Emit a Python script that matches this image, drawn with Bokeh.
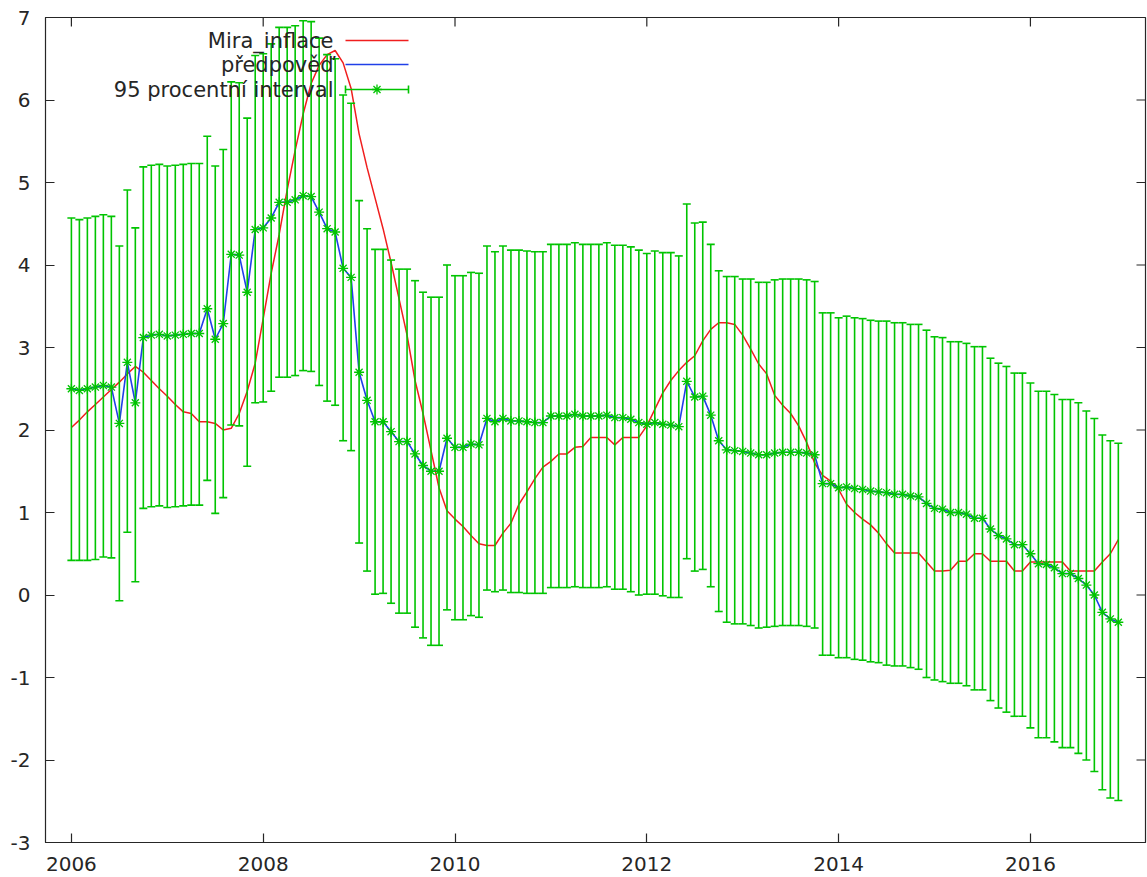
import numpy as np
from bokeh.plotting import figure
from bokeh.models import Range1d, FixedTicker
from bokeh.embed import file_html
from bokeh.resources import INLINE
from bokeh.core.properties import value

# ---------------- data (monthly, Jan 2006 .. Dec 2016) ----------------
start_year = 2006

mira_inflace = [
    2.03, 2.12, 2.22, 2.31, 2.40, 2.49, 2.58, 2.68, 2.77, 2.70,
    2.60, 2.50, 2.41, 2.31, 2.22, 2.20, 2.10, 2.10, 2.08, 2.00,
    2.02, 2.20, 2.47, 2.81, 3.35, 3.90, 4.37, 4.91, 5.39, 5.83,
    6.20, 6.42, 6.55, 6.60, 6.45, 6.14, 5.59, 5.18, 4.81, 4.44,
    4.03, 3.59, 3.15, 2.60, 2.20, 1.75, 1.30, 1.02, 0.92, 0.83,
    0.72, 0.62, 0.60, 0.60, 0.75, 0.87, 1.10, 1.25, 1.41, 1.55,
    1.62, 1.71, 1.71, 1.79, 1.80, 1.91, 1.91, 1.91, 1.82, 1.91,
    1.91, 1.91, 2.05, 2.25, 2.45, 2.60, 2.72, 2.82, 2.90, 3.08,
    3.22, 3.30, 3.30, 3.28, 3.15, 2.98, 2.80, 2.68, 2.42, 2.30,
    2.20, 2.05, 1.85, 1.60, 1.45, 1.38, 1.28, 1.10, 1.00, 0.92,
    0.85, 0.75, 0.62, 0.51, 0.51, 0.51, 0.51, 0.40, 0.29, 0.29,
    0.30, 0.41, 0.41, 0.50, 0.50, 0.41, 0.41, 0.41, 0.29, 0.29,
    0.40, 0.40, 0.40, 0.40, 0.40, 0.29, 0.29, 0.29, 0.29, 0.40,
    0.50, 0.67,
]

predpoved = [
    2.50, 2.48, 2.50, 2.52, 2.54, 2.52, 2.08, 2.82, 2.33, 3.12,
    3.15, 3.16, 3.14, 3.15, 3.16, 3.17, 3.17, 3.47, 3.10, 3.29,
    4.13, 4.12, 3.67, 4.43, 4.45, 4.57, 4.76, 4.76, 4.79, 4.84,
    4.83, 4.64, 4.44, 4.40, 3.96, 3.85, 2.70, 2.36, 2.10, 2.10,
    1.98, 1.86, 1.86, 1.71, 1.57, 1.50, 1.50, 1.90, 1.79, 1.79,
    1.83, 1.82, 2.14, 2.10, 2.14, 2.11, 2.11, 2.10, 2.09, 2.09,
    2.17, 2.17, 2.17, 2.19, 2.17, 2.17, 2.17, 2.18, 2.15, 2.15,
    2.13, 2.09, 2.07, 2.09, 2.07, 2.06, 2.04, 2.59, 2.40, 2.41,
    2.18, 1.87, 1.76, 1.75, 1.74, 1.72, 1.70, 1.70, 1.72, 1.73,
    1.73, 1.73, 1.72, 1.70, 1.35, 1.35, 1.30, 1.31, 1.29, 1.28,
    1.26, 1.25, 1.24, 1.22, 1.22, 1.20, 1.19, 1.11, 1.05, 1.04,
    1.00, 1.00, 0.98, 0.93, 0.93, 0.80, 0.72, 0.68, 0.61, 0.61,
    0.50, 0.38, 0.37, 0.33, 0.26, 0.26, 0.20, 0.12, 0.00, -0.21,
    -0.29, -0.33,
]

interval_upper = [
    4.57, 4.55, 4.57, 4.59, 4.61, 4.59, 4.23, 4.91, 4.45, 5.19,
    5.21, 5.22, 5.20, 5.21, 5.22, 5.23, 5.23, 5.56, 5.20, 5.40,
    6.22, 6.21, 5.78, 6.54, 6.56, 6.68, 6.88, 6.88, 6.90, 6.96,
    6.95, 6.75, 6.55, 6.50, 6.06, 5.96, 4.78, 4.44, 4.19, 4.19,
    4.06, 3.95, 3.95, 3.81, 3.67, 3.61, 3.61, 4.00, 3.87, 3.87,
    3.91, 3.90, 4.23, 4.16, 4.23, 4.18, 4.18, 4.17, 4.16, 4.16,
    4.25, 4.25, 4.25, 4.27, 4.25, 4.25, 4.25, 4.27, 4.24, 4.24,
    4.22, 4.18, 4.14, 4.17, 4.15, 4.15, 4.11, 4.74, 4.51, 4.52,
    4.25, 3.93, 3.86, 3.86, 3.83, 3.83, 3.79, 3.79, 3.82, 3.83,
    3.83, 3.83, 3.82, 3.80, 3.42, 3.42, 3.36, 3.38, 3.36, 3.35,
    3.33, 3.32, 3.32, 3.30, 3.30, 3.28, 3.28, 3.21, 3.13, 3.12,
    3.07, 3.07, 3.05, 3.01, 3.01, 2.87, 2.81, 2.77, 2.69, 2.69,
    2.57, 2.47, 2.47, 2.43, 2.37, 2.37, 2.33, 2.23, 2.14, 1.94,
    1.87, 1.84,
]

interval_lower = [
    0.42, 0.42, 0.42, 0.43, 0.46, 0.45, -0.07, 0.76, 0.16, 1.05,
    1.07, 1.08, 1.06, 1.07, 1.08, 1.09, 1.09, 1.39, 0.99, 1.18,
    2.06, 2.05, 1.56, 2.33, 2.34, 2.47, 2.64, 2.64, 2.66, 2.72,
    2.71, 2.54, 2.35, 2.30, 1.87, 1.75, 0.63, 0.29, 0.01, 0.02,
    -0.10, -0.22, -0.22, -0.39, -0.52, -0.61, -0.61, -0.18, -0.30, -0.30,
    -0.25, -0.27, 0.06, 0.04, 0.06, 0.03, 0.03, 0.02, 0.02, 0.02,
    0.09, 0.09, 0.09, 0.10, 0.09, 0.09, 0.09, 0.10, 0.07, 0.07,
    0.04, 0.00, 0.01, 0.01, -0.01, -0.03, -0.03, 0.44, 0.29, 0.31,
    0.10, -0.20, -0.33, -0.35, -0.35, -0.37, -0.40, -0.39, -0.38, -0.37,
    -0.37, -0.37, -0.38, -0.40, -0.73, -0.73, -0.76, -0.76, -0.78, -0.79,
    -0.81, -0.82, -0.85, -0.86, -0.86, -0.88, -0.90, -1.00, -1.03, -1.05,
    -1.07, -1.07, -1.10, -1.15, -1.15, -1.28, -1.37, -1.42, -1.47, -1.47,
    -1.61, -1.73, -1.73, -1.78, -1.85, -1.85, -1.92, -2.00, -2.14, -2.36,
    -2.46, -2.49,
]

legend_labels = ["Mira_inflace", "předpověď", "95 procentní interval"]
x_ticks = [2006, 2008, 2010, 2012, 2014, 2016]
y_ticks = [-3, -2, -1, 0, 1, 2, 3, 4, 5, 6, 7]

# monthly time axis
t = [start_year + i / 12 for i in range(len(predpoved))]

# ---------------- styling ----------------
RED = "#f01e1e"
BLUE = "#2040e8"
GREEN = "#00c400"
INK = "#262626"
FONT = "DejaVu Sans"

X0, X1 = 2005.73, 2017.20
Y0, Y1 = -3, 7
FRAME_W, FRAME_H = 1100.0, 825.0
TICK_PX = 9

p = figure(width=1147, height=877,
           x_range=Range1d(X0, X1), y_range=Range1d(Y0, Y1),
           output_backend="svg", toolbar_location=None,
           min_border_left=45, min_border_right=2,
           min_border_top=17, min_border_bottom=35)
p.background_fill_color = "white"
p.border_fill_color = "white"
p.outline_line_color = INK
p.outline_line_width = 1.2
p.xgrid.visible = False
p.ygrid.visible = False

for ax in (p.xaxis[0], p.yaxis[0]):
    ax.major_tick_in = TICK_PX
    ax.major_tick_out = 0
    ax.minor_tick_in = 0
    ax.minor_tick_out = 0
    ax.major_tick_line_color = INK
    ax.major_tick_line_width = 1.2
    ax.axis_line_color = INK
    ax.major_label_text_font = FONT
    ax.major_label_text_font_size = "20px"
    ax.major_label_text_color = INK
p.xaxis[0].ticker = FixedTicker(ticks=x_ticks)
p.yaxis[0].ticker = FixedTicker(ticks=y_ticks)
p.yaxis[0].major_label_overrides = {v: str(v) for v in y_ticks}
p.xaxis[0].major_label_standoff = 14
p.yaxis[0].major_label_standoff = 15

# mirrored inward ticks on top and right border (gnuplot style)
tick_dy = TICK_PX * (Y1 - Y0) / FRAME_H
tick_dx = TICK_PX * (X1 - X0) / FRAME_W
p.segment(x0=x_ticks, y0=[Y1] * len(x_ticks), x1=x_ticks, y1=[Y1 - tick_dy] * len(x_ticks),
          line_color=INK, line_width=1.2)
p.segment(x0=[X1] * len(y_ticks), y0=y_ticks, x1=[X1 - tick_dx] * len(y_ticks), y1=y_ticks,
          line_color=INK, line_width=1.2)

# ---------------- data marks ----------------
p.line(t, mira_inflace, line_color=RED, line_width=1.5)
p.line(t, predpoved, line_color=BLUE, line_width=1.6)

p.segment(x0=t, y0=interval_lower, x1=t, y1=interval_upper,
          line_color=GREEN, line_width=1.6)
p.scatter(t, interval_upper, marker="dash", size=8, line_color=GREEN, line_width=1.6)
p.scatter(t, interval_lower, marker="dash", size=8, line_color=GREEN, line_width=1.6)
p.scatter(t, predpoved, marker="asterisk", size=10, line_color=GREEN, line_width=1.3)

# ---------------- gnuplot-style key (layout in pixel terms) ----------------
def dx(px):
    return X0 + (px - 45) * (X1 - X0) / FRAME_W

def dy(py):
    return Y1 - (py - 17) * (Y1 - Y0) / FRAME_H

rows = [40, 64, 89]
p.text(x=[dx(333)] * 3, y=[dy(r) for r in rows], text=legend_labels,
       text_align="right", text_baseline="middle",
       text_font=value(FONT), text_font_size="21px", text_color=INK)
p.segment(x0=[dx(345)], y0=[dy(rows[0])], x1=[dx(408)], y1=[dy(rows[0])],
          line_color=RED, line_width=1.5)
p.segment(x0=[dx(345)], y0=[dy(rows[1])], x1=[dx(408)], y1=[dy(rows[1])],
          line_color=BLUE, line_width=1.6)
p.segment(x0=[dx(345)], y0=[dy(rows[2])], x1=[dx(408)], y1=[dy(rows[2])],
          line_color=GREEN, line_width=1.6)
p.segment(x0=[dx(345), dx(408)], y0=[dy(rows[2] - 4)] * 2,
          x1=[dx(345), dx(408)], y1=[dy(rows[2] + 4)] * 2,
          line_color=GREEN, line_width=1.6)
p.scatter([dx(376.5)], [dy(rows[2])], marker="asterisk", size=10,
          line_color=GREEN, line_width=1.3)

open("out.html", "w").write(file_html(p, INLINE))
